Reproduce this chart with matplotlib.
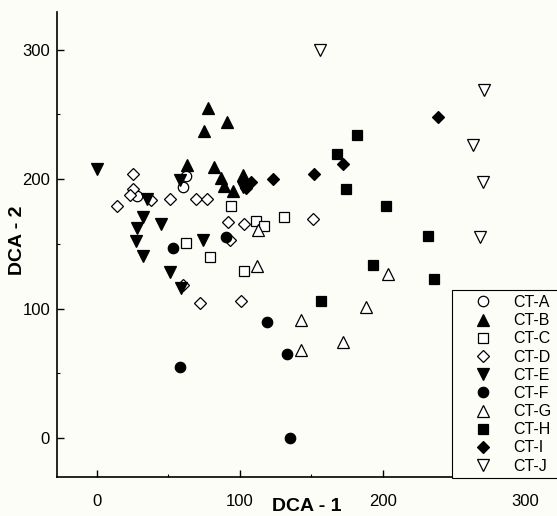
import matplotlib
matplotlib.use("Agg")
import matplotlib.pyplot as plt
from matplotlib.ticker import MultipleLocator
from matplotlib.patches import Rectangle

plt.rcParams['font.family'] = ['Liberation Sans', 'DejaVu Sans']

groups = ['CT-A', 'CT-B', 'CT-C', 'CT-D', 'CT-E', 'CT-F', 'CT-G', 'CT-H', 'CT-I', 'CT-J']

ct_a_x = [28, 62, 60]
ct_a_y = [187, 202, 194]
ct_b_x = [63, 78, 75, 91, 82, 87, 89, 95, 102]
ct_b_y = [211, 255, 237, 244, 209, 201, 195, 191, 203]
ct_c_x = [94, 111, 117, 131, 62, 79, 103]
ct_c_y = [179, 168, 164, 171, 151, 140, 129]
ct_d_x = [25, 14, 25, 23, 38, 51, 69, 77, 92, 103, 93, 60, 72, 101, 151]
ct_d_y = [204, 179, 192, 188, 184, 185, 185, 185, 167, 165, 153, 118, 104, 106, 169]
ct_e_x = [0, 35, 58, 102, 32, 28, 45, 27, 32, 74, 51, 59]
ct_e_y = [208, 185, 199, 194, 171, 162, 165, 152, 141, 153, 128, 116]
ct_f_x = [53, 90, 58, 119, 133, 135]
ct_f_y = [147, 155, 55, 90, 65, 0]
ct_g_x = [113, 112, 204, 188, 143, 143, 172]
ct_g_y = [161, 133, 127, 101, 91, 68, 74]
ct_h_x = [182, 168, 174, 202, 232, 193, 236, 157]
ct_h_y = [234, 219, 192, 179, 156, 134, 123, 106]
ct_i_x = [108, 104, 123, 152, 172, 239]
ct_i_y = [198, 193, 200, 204, 212, 248]
ct_j_x = [156, 271, 263, 270, 268]
ct_j_y = [300, 269, 226, 198, 155]

xs = [ct_a_x, ct_b_x, ct_c_x, ct_d_x, ct_e_x, ct_f_x, ct_g_x, ct_h_x, ct_i_x, ct_j_x]
ys = [ct_a_y, ct_b_y, ct_c_y, ct_d_y, ct_e_y, ct_f_y, ct_g_y, ct_h_y, ct_i_y, ct_j_y]

# marker, filled?, size
styles = [('o', False, 7.5), ('^', True, 8), ('s', False, 7.5), ('D', False, 6), ('v', True, 8),
          ('o', True, 7.5), ('^', False, 8), ('s', True, 7.5), ('D', True, 6), ('v', False, 8)]

bg = '#fdfdf8'
fig = plt.figure(figsize=(5.57, 5.16), dpi=100, facecolor=bg)
ax = fig.add_axes([57/557, 1 - 477/516, 1 - 57/557, (477 - 12)/516])
ax.set_facecolor(bg)

for name, x, y, (m, filled, ms) in zip(groups, xs, ys, styles):
    ax.plot(x, y, linestyle='none', marker=m, markersize=ms,
            markerfacecolor='black' if filled else 'white',
            markeredgecolor='black', markeredgewidth=0.9, label=name)

ax.set_xlim(-28, 322)
ax.set_ylim(-30, 329)

for s in ['top', 'right']:
    ax.spines[s].set_visible(False)
for s in ['left', 'bottom']:
    ax.spines[s].set_linewidth(1.2)

ax.xaxis.set_major_locator(MultipleLocator(100))
ax.xaxis.set_minor_locator(MultipleLocator(50))
ax.yaxis.set_major_locator(MultipleLocator(100))
ax.yaxis.set_minor_locator(MultipleLocator(50))
ax.tick_params(which='major', direction='in', length=5, width=1, labelsize=12)
ax.tick_params(which='minor', direction='in', length=2.5, width=0.8)
ax.tick_params(axis='x', which='major', pad=12)
ax.tick_params(axis='y', which='major', pad=5)

ax.set_xlabel('DCA - 1', fontsize=14, fontweight='bold')
ax.set_ylabel('DCA - 2', fontsize=14, fontweight='bold')
ax.xaxis.set_label_coords(0.5, -0.045)
ax.yaxis.set_label_coords(-0.062, 0.51)

# legend box runs past the right edge of the figure, as in the scan
box = Rectangle((452/557, 1 - 478/516), 0.25, 188/516, transform=fig.transFigure,
                facecolor=bg, edgecolor='black', linewidth=0.8, zorder=4, clip_on=False)
ax.add_patch(box)

leg = ax.legend(loc='lower left', bbox_to_anchor=(452/557, 1 - 478/516),
                bbox_transform=fig.transFigure, fontsize=11.5, frameon=False,
                handlelength=3.3, handletextpad=0.25, borderpad=0.27,
                labelspacing=0.2, borderaxespad=0)
leg.set_zorder(5)

fig.savefig('out.png', dpi=100, facecolor=bg)
